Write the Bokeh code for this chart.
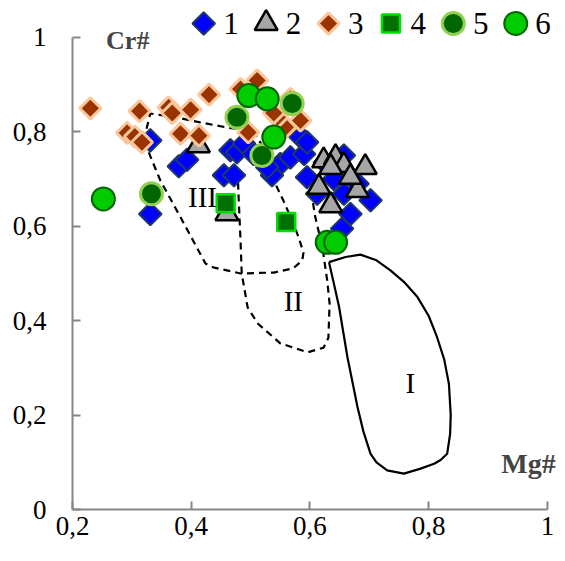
import numpy as np
from bokeh.plotting import figure
from bokeh.models import Range1d, FixedTicker, Label
from bokeh.core.properties import value
from bokeh.embed import file_html
from bokeh.resources import INLINE

# ---------------- data ----------------
s1_x = [0.331, 0.379, 0.393, 0.331, 0.455, 0.466, 0.472, 0.477, 0.489, 0.505, 0.550, 0.567,
        0.590, 0.584, 0.595, 0.536, 0.528, 0.595, 0.612, 0.657, 0.657, 0.702, 0.668, 0.654,
        0.625, 0.640, 0.680]
s1_y = [0.782, 0.727, 0.741, 0.626, 0.708, 0.761, 0.708, 0.757, 0.775, 0.753, 0.732, 0.746,
        0.753, 0.789, 0.778, 0.708, 0.725, 0.704, 0.669, 0.750, 0.669, 0.655, 0.626, 0.595,
        0.735, 0.700, 0.690]

s2_x = [0.412, 0.460, 0.623, 0.643, 0.657, 0.693, 0.615, 0.680, 0.635, 0.635, 0.668]
s2_y = [0.771, 0.627, 0.739, 0.746, 0.729, 0.725, 0.683, 0.676, 0.644, 0.725, 0.704]

s3_x = [0.230, 0.313, 0.292, 0.305, 0.317, 0.362, 0.368, 0.399, 0.430, 0.382, 0.413,
        0.511, 0.483, 0.567, 0.559, 0.496, 0.584, 0.545, 0.539]
s3_y = [0.850, 0.844, 0.798, 0.790, 0.778, 0.852, 0.840, 0.847, 0.879, 0.796, 0.792,
        0.909, 0.891, 0.870, 0.810, 0.799, 0.824, 0.831, 0.840]

s4_x = [0.458, 0.560]
s4_y = [0.649, 0.609]

s5_x = [0.333, 0.477, 0.570, 0.519]
s5_y = [0.669, 0.831, 0.860, 0.750]

s6_x = [0.252, 0.497, 0.528, 0.539, 0.629, 0.643]
s6_y = [0.658, 0.877, 0.870, 0.789, 0.566, 0.566]

# field outlines
reg1_x = [0.632, 0.660, 0.685, 0.712, 0.736, 0.760, 0.781, 0.800, 0.814, 0.826, 0.834, 0.837,
          0.836, 0.831, 0.820, 0.809, 0.785, 0.758, 0.730, 0.712, 0.702, 0.690, 0.680, 0.663,
          0.649, 0.640, 0.632]
reg1_y = [0.524, 0.535, 0.540, 0.528, 0.506, 0.480, 0.450, 0.410, 0.365, 0.318, 0.266, 0.200,
          0.160, 0.118, 0.105, 0.097, 0.086, 0.076, 0.083, 0.100, 0.118, 0.165, 0.217, 0.323,
          0.429, 0.480, 0.524]

reg2_x = [0.478, 0.480, 0.483, 0.485, 0.490, 0.495, 0.512, 0.550, 0.596, 0.623, 0.631,
          0.633, 0.629, 0.621, 0.609, 0.603, 0.596]
reg2_y = [0.718, 0.655, 0.570, 0.500, 0.464, 0.428, 0.394, 0.352, 0.333, 0.343, 0.364,
          0.436, 0.485, 0.555, 0.619, 0.665, 0.718]

reg3_x = [0.320, 0.331, 0.373, 0.416, 0.461, 0.503, 0.525, 0.539, 0.555, 0.572, 0.581,
          0.589, 0.587, 0.572, 0.539, 0.483, 0.437, 0.424, 0.382, 0.348, 0.320]
reg3_y = [0.782, 0.839, 0.831, 0.820, 0.809, 0.803, 0.761, 0.697, 0.655, 0.606, 0.576,
          0.544, 0.528, 0.511, 0.502, 0.500, 0.513, 0.521, 0.619, 0.697, 0.782]

x_ticks = [0.2, 0.4, 0.6, 0.8, 1]
x_tick_labels = ["0,2", "0,4", "0,6", "0,8", "1"]
y_ticks = [0, 0.2, 0.4, 0.6, 0.8, 1]
y_tick_labels = ["0", "0,2", "0,4", "0,6", "0,8", "1"]
legend_labels = ["1", "2", "3", "4", "5", "6"]
field_labels = ["I", "II", "III"]
field_label_x = [0.769, 0.572, 0.419]
field_label_y = [0.267, 0.441, 0.663]

SERIF = "Liberation Serif"

# ---------------- figure ----------------
p = figure(width=562, height=553,
           x_range=Range1d(0.2, 1.0219), y_range=Range1d(0, 1.0699),
           output_backend="svg", toolbar_location=None,
           min_border_left=72, min_border_right=2, min_border_top=4, min_border_bottom=44)
p.grid.visible = False
p.outline_line_color = None
p.background_fill_color = "white"

p.xaxis.bounds = (0.2, 1)
p.yaxis.bounds = (0, 1)
p.xaxis.ticker = FixedTicker(ticks=x_ticks)
p.yaxis.ticker = FixedTicker(ticks=y_ticks)
p.xaxis.major_label_overrides = dict(zip(x_ticks, x_tick_labels))
p.yaxis.major_label_overrides = dict(zip(y_ticks, y_tick_labels))
for ax in (p.xaxis, p.yaxis):
    ax.axis_line_color = "#868686"
    ax.axis_line_width = 2
    ax.major_tick_line_color = "#868686"
    ax.major_tick_line_width = 2
    ax.major_tick_in = 8
    ax.major_tick_out = 0
    ax.minor_tick_line_color = None
    ax.major_label_text_font = SERIF
    ax.major_label_text_font_size = "27px"
    ax.major_label_text_color = "black"
p.xaxis.major_label_standoff = 7
p.yaxis.major_label_standoff = 26

# field outlines
p.line(reg1_x, reg1_y, line_color="black", line_width=2.2)
p.line(reg2_x, reg2_y, line_color="black", line_width=2.2, line_dash="7 5")
p.line(reg3_x, reg3_y, line_color="black", line_width=2.2, line_dash="7 5")

styles = [
    dict(marker="square", angle=np.pi / 4, size=16, fill_color="#0000FF", line_color="#1F3864", line_width=2),
    dict(marker="triangle", angle=0, size=23, fill_color="#A6A6A6", line_color="black", line_width=2.5),
    dict(marker="square", angle=np.pi / 4, size=15, fill_color="#993300", line_color="#FBC69A", line_width=3),
    dict(marker="square", angle=0, size=18, fill_color="#007000", line_color="#00E000", line_width=2.5),
    dict(marker="circle", angle=0, size=22, fill_color="#006600", line_color="#92D050", line_width=3),
    dict(marker="circle", angle=0, size=23, fill_color="#00CC00", line_color="#006600", line_width=2),
]
series = [(s1_x, s1_y), (s2_x, s2_y), (s3_x, s3_y), (s4_x, s4_y), (s5_x, s5_y), (s6_x, s6_y)]
for (sx, sy), st in zip(series, styles):
    p.scatter(sx, sy, **st)

# legend row (drawn above the plot area, inside the extended range)
leg_x0, leg_dx, leg_y, leg_text_dx = 0.421, 0.1051, 1.0297, 0.046
for i, st in enumerate(styles):
    p.scatter([leg_x0 + i * leg_dx], [leg_y], **st)
p.text(x=[leg_x0 + i * leg_dx + leg_text_dx for i in range(6)], y=[leg_y] * 6, text=legend_labels,
       text_font=value(SERIF), text_font_size="31px", text_color="black",
       text_align="center", text_baseline="middle")

for t, fx, fy in zip(field_labels, field_label_x, field_label_y):
    p.add_layout(Label(x=fx, y=fy, text=t, text_font=SERIF, text_font_size="29px",
                       text_align="center", text_baseline="middle", text_color="black"))

p.add_layout(Label(x=0.293, y=0.994, text="Cr#", text_font=SERIF, text_font_size="26px",
                   text_font_style="bold", text_align="center", text_baseline="middle"))
p.add_layout(Label(x=0.968, y=0.097, text="Mg#", text_font=SERIF, text_font_size="28px",
                   text_font_style="bold", text_align="center", text_baseline="middle"))

open("out.html", "w").write(file_html(p, INLINE))
